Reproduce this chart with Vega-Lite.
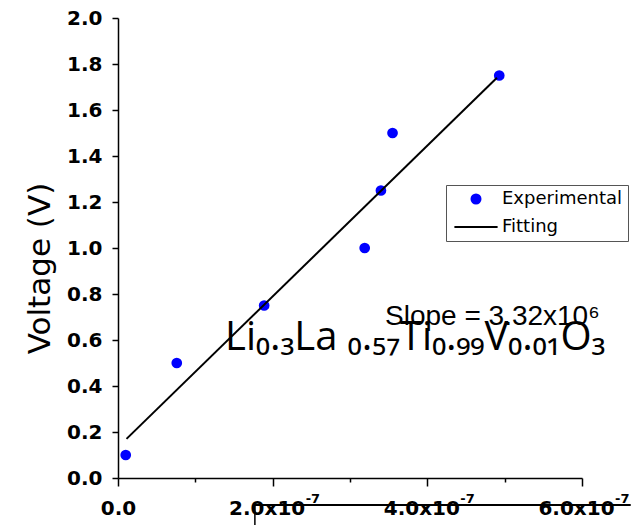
{
  "$schema": "https://vega.github.io/schema/vega-lite/v6.json",
  "width": 464,
  "height": 460,
  "autosize": "none",
  "padding": {"left": 118, "top": 18, "right": 49, "bottom": 47},
  "background": "white",
  "config": {
    "view": {"stroke": null},
    "axis": {"grid": false, "domainColor": "black", "tickColor": "black", "labelColor": "black", "titleColor": "black"}
  },
  "datasets": {
    "measured": [
      {"x": 1.0e-8, "y": 0.10, "series": "Experimental"},
      {"x": 7.6e-8, "y": 0.50, "series": "Experimental"},
      {"x": 1.89e-7, "y": 0.75, "series": "Experimental"},
      {"x": 3.19e-7, "y": 1.00, "series": "Experimental"},
      {"x": 3.40e-7, "y": 1.25, "series": "Experimental"},
      {"x": 3.55e-7, "y": 1.50, "series": "Experimental"},
      {"x": 4.93e-7, "y": 1.75, "series": "Experimental"}
    ],
    "fit": [
      {"x": 1.1e-8, "y": 0.17, "series": "Fitting"},
      {"x": 4.9e-7, "y": 1.74, "series": "Fitting"}
    ],
    "exponents": [
      {"x": 2e-7, "y": -0.109, "text": "-7"},
      {"x": 4e-7, "y": -0.109, "text": "-7"},
      {"x": 6e-7, "y": -0.109, "text": "-7"}
    ],
    "formula": [
      {"x": 1.384e-7, "y": 0.5565, "text": "Li₀.₃La ₀.₅₇Ti₀.₉₉V₀.₀₁O₃"}
    ],
    "slope": [
      {"x": 3.453e-7, "y": 0.665, "text": "Slope = 3.32x10⁶"}
    ],
    "strayH": [
      {"x": 1.746e-7, "x2": 6.63e-7, "y": -0.117}
    ],
    "strayV": [
      {"x": 1.77e-7, "y": -0.117, "y2": -0.21}
    ]
  },
  "layer": [
    {
      "data": {"name": "measured"},
      "mark": {"type": "point", "filled": true, "size": 115, "opacity": 1},
      "encoding": {
        "x": {
          "field": "x", "type": "quantitative",
          "scale": {"domain": [0, 6e-7], "nice": false, "zero": false},
          "axis": {
            "title": null,
            "values": [0, 5e-8, 1e-7, 1.5e-7, 2e-7, 2.5e-7, 3e-7, 3.5e-7, 4e-7, 4.5e-7, 5e-7, 5.5e-7, 6e-7],
            "labelExpr": "abs(datum.value*1e7 - 2*round(datum.value*5e6)) < 0.01 ? (datum.value == 0 ? '0.0' : format(datum.value*1e7, '.1f') + 'x10') : ''",
            "labelOffset": {"condition": {"test": "datum.value > 0", "value": -6}, "value": 0},
            "tickSize": {"condition": {"test": "abs(datum.value*1e7 - 2*round(datum.value*5e6)) < 0.01", "value": 8}, "value": 4},
            "tickWidth": 1.5,
            "domainWidth": 1.5,
            "labelFont": "DejaVu Sans",
            "labelFontWeight": "bold",
            "labelFontSize": 20,
            "labelPadding": 12,
            "labelFlush": false,
            "labelOverlap": false,
            "labelBaseline": "top"
          }
        },
        "y": {
          "field": "y", "type": "quantitative",
          "scale": {"domain": [0, 2], "nice": false, "zero": false},
          "axis": {
            "title": "Voltage (V)",
            "titleFont": "DejaVu Sans",
            "titleFontSize": 31,
            "titleFontWeight": "normal",
            "titlePadding": 10,
            "titleY": 250,
            "values": [0, 0.1, 0.2, 0.3, 0.4, 0.5, 0.6, 0.7, 0.8, 0.9, 1.0, 1.1, 1.2, 1.3, 1.4, 1.5, 1.6, 1.7, 1.8, 1.9, 2.0],
            "labelExpr": "abs(datum.value*5 - round(datum.value*5)) < 0.01 ? format(datum.value, '.1f') : ''",
            "tickSize": {"condition": {"test": "abs(datum.value*5 - round(datum.value*5)) < 0.01", "value": 6}, "value": 3},
            "tickWidth": 1.5,
            "domainWidth": 1.5,
            "labelFont": "DejaVu Sans",
            "labelFontWeight": "bold",
            "labelFontSize": 20,
            "labelPadding": 10,
            "labelOverlap": false
          }
        },
        "color": {
          "field": "series", "type": "nominal",
          "scale": {"domain": ["Experimental", "Fitting"], "range": ["#0000ff", "#000000"]},
          "legend": {
            "orient": "none",
            "legendX": 328,
            "legendY": 167,
            "title": null,
            "strokeColor": "#555555",
            "fillColor": "white",
            "padding": 5,
            "labelFont": "DejaVu Sans",
            "labelFontSize": 18,
            "labelColor": "black",
            "symbolSize": 81,
            "symbolOffset": 16,
            "labelOffset": 17,
            "rowPadding": 10,
            "symbolStrokeWidth": 2,
            "encode": {
              "symbols": {
                "update": {
                  "stroke": {"scale": "color", "field": "value"},
                  "strokeWidth": {"value": 2}
                }
              }
            }
          }
        },
        "shape": {
          "field": "series", "type": "nominal",
          "scale": {"domain": ["Experimental", "Fitting"], "range": ["circle", "M-4.8,0H4.8"]}
        }
      }
    },
    {
      "data": {"name": "fit"},
      "mark": {"type": "line", "strokeWidth": 2},
      "encoding": {
        "x": {"field": "x", "type": "quantitative"},
        "y": {"field": "y", "type": "quantitative"},
        "color": {"field": "series", "type": "nominal"}
      }
    },
    {
      "data": {"name": "exponents"},
      "mark": {"type": "text", "align": "left", "baseline": "alphabetic", "dx": 33, "font": "DejaVu Sans", "fontWeight": "bold", "fontSize": 13, "color": "black", "clip": false},
      "encoding": {
        "x": {"field": "x", "type": "quantitative"},
        "y": {"field": "y", "type": "quantitative"},
        "text": {"field": "text"}
      }
    },
    {
      "data": {"name": "formula"},
      "mark": {"type": "text", "align": "left", "baseline": "alphabetic", "font": "Open Sans", "fontSize": 40, "color": "black"},
      "encoding": {
        "x": {"field": "x", "type": "quantitative"},
        "y": {"field": "y", "type": "quantitative"},
        "text": {"field": "text"}
      }
    },
    {
      "data": {"name": "slope"},
      "mark": {"type": "text", "align": "left", "baseline": "alphabetic", "font": "Liberation Sans", "fontSize": 28, "color": "black"},
      "encoding": {
        "x": {"field": "x", "type": "quantitative"},
        "y": {"field": "y", "type": "quantitative"},
        "text": {"field": "text"}
      }
    },
    {
      "data": {"name": "strayH"},
      "mark": {"type": "rule", "strokeWidth": 2, "color": "black", "clip": false},
      "encoding": {
        "x": {"field": "x", "type": "quantitative"},
        "x2": {"field": "x2"},
        "y": {"field": "y", "type": "quantitative"}
      }
    },
    {
      "data": {"name": "strayV"},
      "mark": {"type": "rule", "strokeWidth": 1.5, "color": "black", "clip": false},
      "encoding": {
        "x": {"field": "x", "type": "quantitative"},
        "y": {"field": "y", "type": "quantitative"},
        "y2": {"field": "y2"}
      }
    }
  ]
}
